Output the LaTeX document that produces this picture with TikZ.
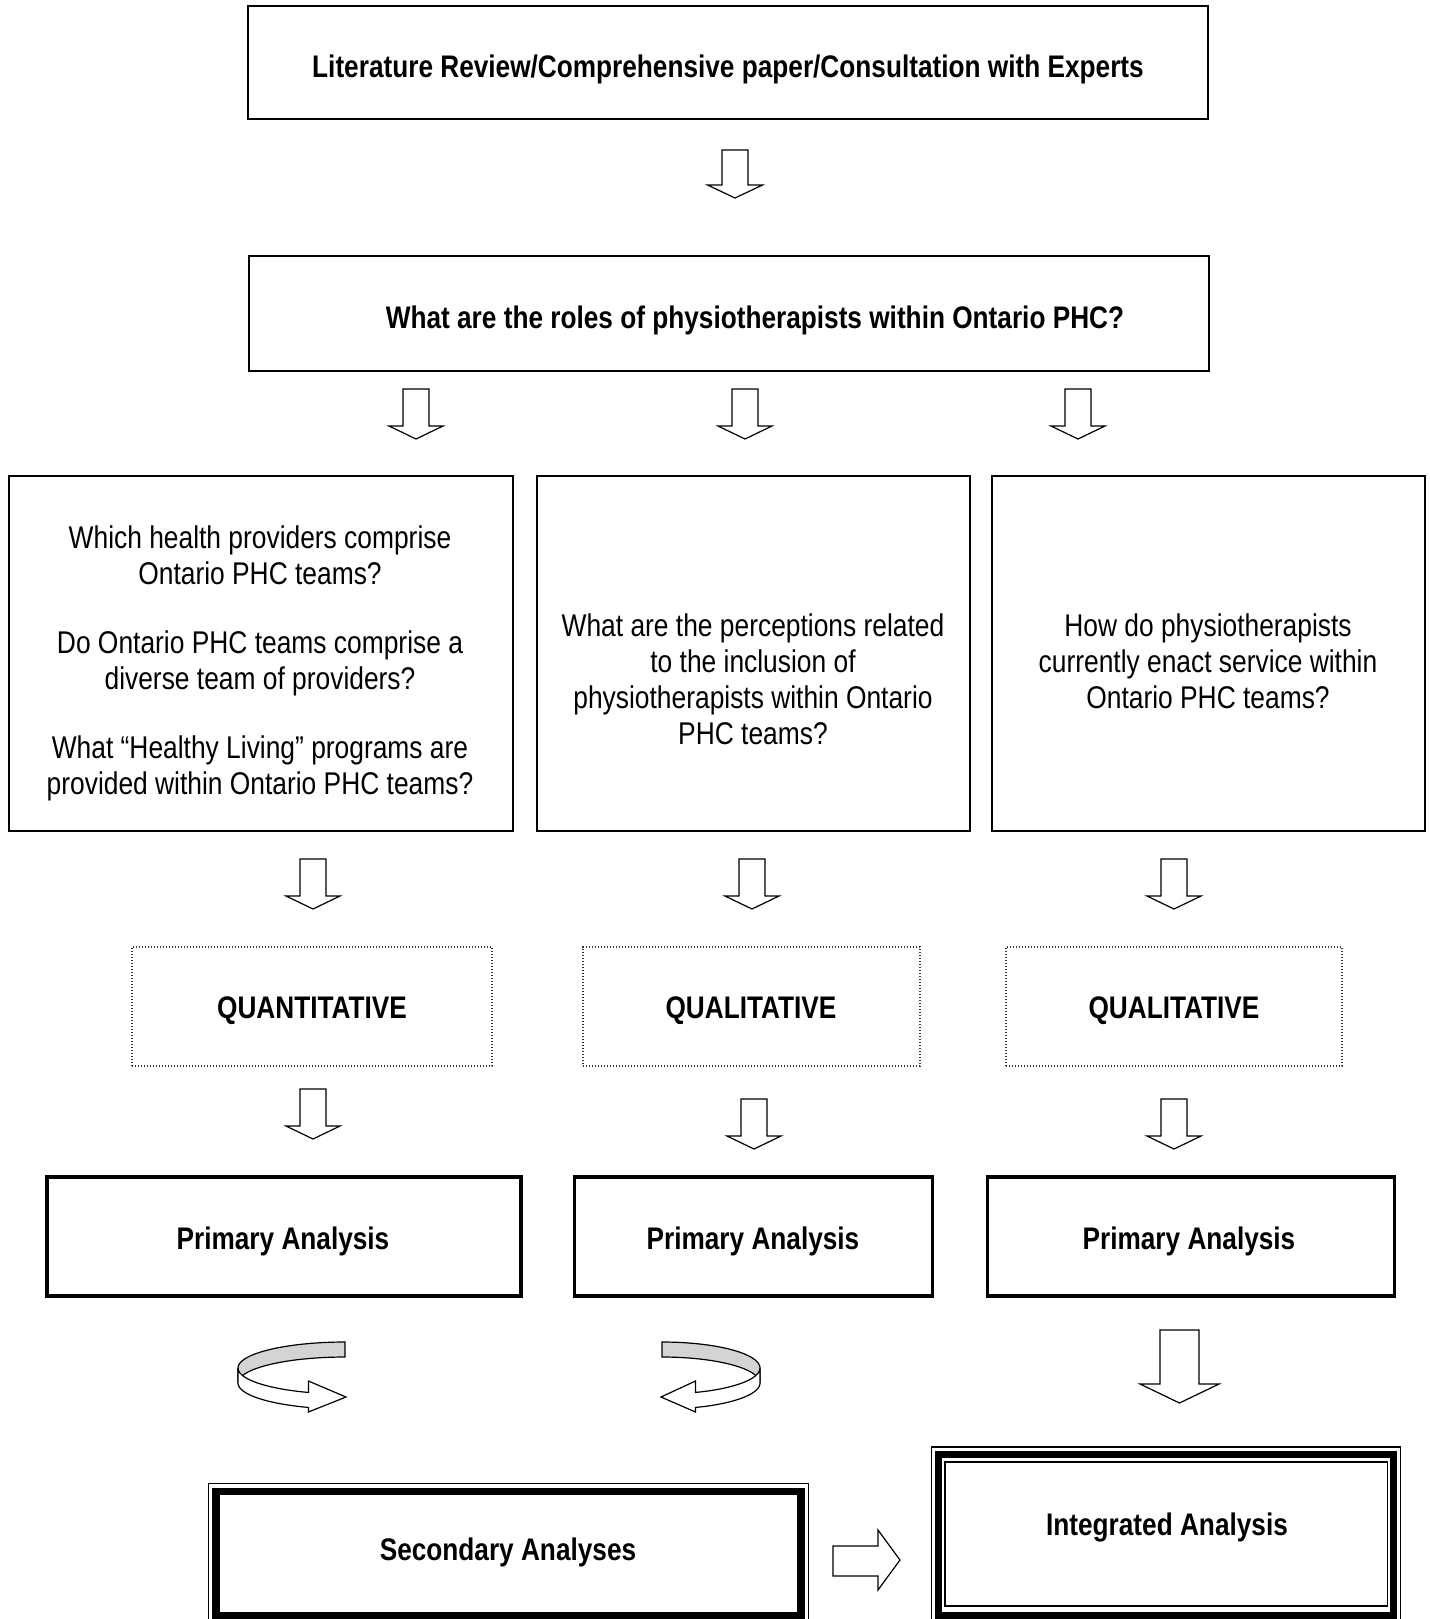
\documentclass[tikz,border=0pt]{standalone}
\usepackage{fontspec}
\setmainfont[FakeStretch=0.84]{Liberation Sans}
\usetikzlibrary{fit}
\begin{document}
\begin{tikzpicture}[x=0.5pt,y=-0.5pt,
  box/.style={draw, line width=0.75pt, inner sep=0pt},
  thickbox/.style={draw, line width=1.65pt, inner sep=0pt},
  dotbox/.style={draw=black!80, line width=0.6pt, dash pattern=on 0.6pt off 0.9pt, inner sep=0pt},
  btext/.style={font=\fontsize{15.6}{18}\selectfont\bfseries, align=center, inner sep=0pt},
  rtext/.style={font=\fontsize{15.7}{18}\selectfont, align=center, inner sep=0pt},
  blockarrow/.style={draw, line width=0.6pt, fill=white, line join=miter},
  ribbon/.style={draw, line width=0.6pt, fill=black!17, line join=miter},
  pics/darrow/.style n args={4}{code={
     \draw[blockarrow] (-#3,0) -- (#3,0) -- (#3,#1) -- (#4,#1) -- (0,#1+#2) -- (-#4,#1) -- (-#3,#1) -- cycle;}}
]
\useasboundingbox (0,0) rectangle (1430,1619);

% top
\node[box, fit={(248,6) (1208,119)}] (b1) {};
\node[btext] (t1) at (728,69) {Literature Review/Comprehensive paper/Consultation with Experts};
\pic at (735,150) {darrow={35}{13}{13}{27.5}};

\node[box, fit={(249,256) (1209,371)}] (b2) {};
\node[btext] (t2) at (755,320) {What are the roles of physiotherapists within Ontario PHC?};

\pic at (416,389) {darrow={37}{13}{13}{27}};
\pic at (745,389) {darrow={37}{13}{13}{27}};
\pic at (1078,389) {darrow={37}{13}{13}{27}};

% question boxes
\node[box, fit={(9,476) (513,831)}] (q1) {};
\node[box, fit={(537,476) (970,831)}] (q2) {};
\node[box, line width=1pt, fit={(992,476) (1425,831)}] (q3) {};
\node[rtext] (q1t) at (260,663.5) {Which health providers comprise\\ Ontario PHC teams?\\[16.5pt]
  Do Ontario PHC teams comprise a\\ diverse team of providers?\\[16.5pt]
  What “Healthy Living” programs are\\ provided within Ontario PHC teams?};
\node[rtext] (q2t) at (753,679.5) {What are the perceptions related\\ to the inclusion of\\ physiotherapists within Ontario\\ PHC teams?};
\node[rtext] (q3t) at (1208,661) {How do physiotherapists\\ currently enact service within\\ Ontario PHC teams?};

\pic at (313,859) {darrow={37}{13}{13}{27}};
\pic at (752,859) {darrow={37}{13}{13}{27}};
\pic at (1174,859) {darrow={37}{13}{13}{27}};

% method boxes
\node[dotbox, fit={(132,947) (492,1066)}] (m1) {};
\node[dotbox, fit={(583,947) (920,1066)}] (m2) {};
\node[dotbox, fit={(1006,947) (1342,1066)}] (m3) {};
\node[btext] (m1t) at (312,1011) {QUANTITATIVE};
\node[btext] (m2t) at (751,1011) {QUALITATIVE};
\node[btext] (m3t) at (1174,1011) {QUALITATIVE};

\pic at (313,1089) {darrow={37}{13}{13}{27}};
\pic at (754,1099) {darrow={37}{13}{13}{27}};
\pic at (1174,1099) {darrow={37}{13}{13}{27}};

% primary analysis
\node[thickbox, fit={(47,1177) (521,1296)}] (p1) {};
\node[thickbox, fit={(574.5,1177) (932.5,1296)}] (p2) {};
\node[thickbox, fit={(987.5,1177) (1394.5,1296)}] (p3) {};
\node[btext] (p1t) at (283,1241) {Primary Analysis};
\node[btext] (p2t) at (753,1241) {Primary Analysis};
\node[btext] (p3t) at (1189,1241) {Primary Analysis};

% curved arrows
\draw[ribbon] plot[domain=270:180, samples=30, variable=\t] ({345+107*cos(\t)},{1368+26*sin(\t)})
   -- plot[domain=180:270, samples=30, variable=\t] ({345+107*cos(\t)},{1383+26*sin(\t)}) -- cycle;
\draw[blockarrow] plot[domain=180:110, samples=30, variable=\t] ({345+107*cos(\t)},{1368+26*sin(\t)})
   -- (308.4,1381) -- (346,1397) -- (308.4,1412)
   -- plot[domain=110:180, samples=30, variable=\t] ({345+107*cos(\t)},{1383+26*sin(\t)}) -- cycle;

\draw[ribbon] plot[domain=270:360, samples=30, variable=\t] ({662+98*cos(\t)},{1368+26*sin(\t)})
   -- plot[domain=360:270, samples=30, variable=\t] ({662+98*cos(\t)},{1383+26*sin(\t)}) -- cycle;
\draw[blockarrow] plot[domain=0:70, samples=30, variable=\t] ({662+98*cos(\t)},{1368+26*sin(\t)})
   -- (695.5,1381) -- (661,1397) -- (695.5,1412)
   -- plot[domain=70:0, samples=30, variable=\t] ({662+98*cos(\t)},{1383+26*sin(\t)}) -- cycle;

\pic at (1179.5,1330) {darrow={54}{19}{19.5}{39.5}};

% secondary / integrated
\draw[line width=0.6pt] (208.3,1483.3) rectangle (808.3,1630);
\node[draw, line width=3.85pt, inner sep=0pt, fit={(216,1491.5) (801,1615.5)}] (sec) {};
\node[btext] (sect) at (508,1552) {Secondary Analyses};

\draw[line width=0.6pt] (931.5,1447) rectangle (1400.5,1630);
\node[draw, line width=3.35pt, inner sep=0pt, fit={(938.3,1454.5) (1393.7,1615.5)}] (int) {};
\draw[line width=0.6pt] (945,1462) rectangle (1387.5,1606);
\node[btext] (intt) at (1167,1527) {Integrated Analysis};

\draw[blockarrow] (833,1546) -- (878,1546) -- (878,1530) -- (900,1560) -- (878,1590) -- (878,1576) -- (833,1576) -- cycle;
\end{tikzpicture}
\end{document}
